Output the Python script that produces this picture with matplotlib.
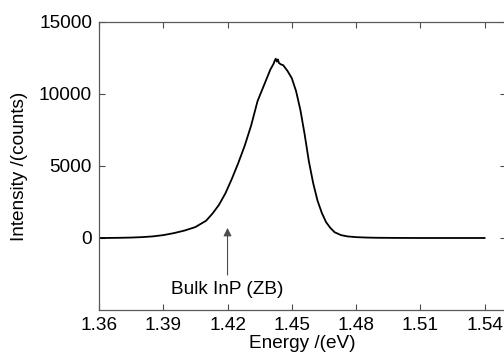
import matplotlib
matplotlib.use('Agg')
import matplotlib.pyplot as plt

# photoluminescence spectrum
energy = [1.360, 1.365, 1.370, 1.375, 1.380, 1.385, 1.390, 1.395, 1.400, 1.405,
          1.410, 1.413, 1.416, 1.419, 1.422, 1.425, 1.428, 1.431, 1.434, 1.437,
          1.440, 1.4415, 1.442, 1.4425, 1.443, 1.4435, 1.444, 1.445, 1.446, 1.448,
          1.450, 1.452, 1.454, 1.456, 1.458, 1.460, 1.462, 1.464, 1.466, 1.468,
          1.470, 1.473, 1.476, 1.480, 1.485, 1.490, 1.500, 1.510, 1.520, 1.530, 1.540]
intensity = [0, 5, 15, 30, 60, 110, 200, 340, 520, 760,
             1200, 1700, 2300, 3100, 4100, 5200, 6400, 7800, 9500, 10600,
             11700, 12100, 12300, 12450, 12250, 12400, 12150, 12050, 12000, 11600,
             11100, 10200, 8900, 7200, 5300, 3800, 2600, 1750, 1100, 700,
             400, 200, 110, 60, 30, 15, 5, 0, 0, 0, 0]

xticks = [1.36, 1.39, 1.42, 1.45, 1.48, 1.51, 1.54]
yticks = [0, 5000, 10000, 15000]

plt.rcParams['font.family'] = ['Liberation Sans', 'DejaVu Sans']

fig = plt.figure(figsize=(5.04, 3.61), dpi=100)
ax = fig.add_axes([99/504, 51/361, 407/504, 288/361])

ax.plot(energy, intensity, color='black', lw=1.3)

ax.set_xlim(1.36, 1.55)
ax.set_ylim(-5000, 15000)
ax.set_xticks(xticks)
ax.set_xticklabels(['%.2f' % t for t in xticks])
ax.set_yticks(yticks)
ax.tick_params(direction='in', length=4, width=0.8, color='0.3',
               top=True, right=True, labelsize=13.7, pad=5)
for s in ax.spines.values():
    s.set_color('0.35')
    s.set_linewidth(0.9)

ax.set_xlabel('Energy /(eV)', fontsize=13.7, labelpad=1)
ax.set_ylabel('Intensity /(counts)', fontsize=13.7, labelpad=8)

ax.annotate('Bulk InP (ZB)', xy=(1.42, 700), xytext=(1.42, -3550),
            ha='center', va='center', fontsize=13.7,
            arrowprops=dict(arrowstyle='-|>', color='0.3', lw=0.8,
                            mutation_scale=12, shrinkA=2, shrinkB=0))

fig.savefig('out.png', dpi=100)
